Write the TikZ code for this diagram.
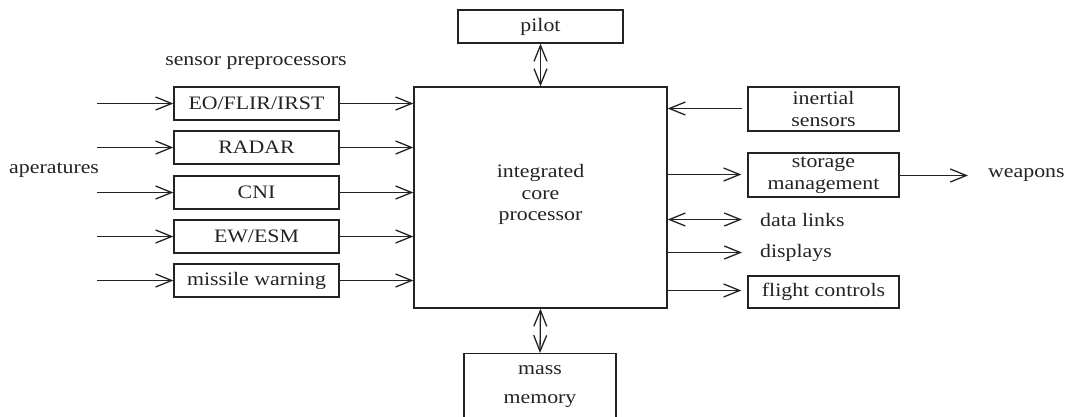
\documentclass[tikz,border=0pt]{standalone}
\usepackage{fontspec}
\setmainfont[FakeStretch=1.15]{Liberation Serif}
\usepackage{xcolor}
\usetikzlibrary{arrows.meta,calc,positioning}
\definecolor{InkCol}{RGB}{35,35,35}
\tikzset{
  avflow/.style={-{Straight Barb[length=16pt,width=13pt]}, line width=1.3pt, draw=InkCol},
  avboth/.style={{Straight Barb[length=16pt,width=13pt]}-{Straight Barb[length=16pt,width=13pt]},
    line width=1.3pt, draw=InkCol},
  avbox/.style={draw=InkCol, line width=1.3pt, minimum width=165pt, minimum height=33pt,
    inner sep=0pt, align=center, text=InkCol, font=\fontsize{19}{22}\selectfont},
  avlab/.style={inner sep=0pt, text=InkCol, font=\fontsize{19}{22}\selectfont}
}

\begin{document}
\begin{tikzpicture}[x=1pt,y=-1pt]
  \useasboundingbox (0,0) rectangle (1068,416);
  % processor with pilot above and memory below
  \node[avbox, minimum width=253pt, minimum height=221pt, text depth=10pt,
    font=\fontsize{19}{21.5}\selectfont] (core) at (540.5,197.5) {integrated\\core\\processor};
  \node[avbox] (pilot) at (540.5,26.5) {pilot};
  \node[avbox, minimum width=152pt, minimum height=76pt, anchor=north,
    text depth=15pt] (mass) at (540,353) {mass\\[7pt]memory};
  \draw[avboth] (pilot.south) -- (core.north);
  \draw[avboth] (core.south) -- (mass.north);
  % sensor preprocessors
  \node[avlab] (pre) at (256,63) {sensor preprocessors};
  \node[avlab, anchor=west] (aper) at (9,170) {aperatures};
  \node[avbox] (eo) at (256.5,103.5) {EO/FLIR/IRST};
  \node[avbox] (radar) at (256.5,147.5) {RADAR};
  \node[avbox] (cni) at (256.5,192.5) {CNI};
  \node[avbox] (ew) at (256.5,236.5) {EW/ESM};
  \node[avbox] (mw) at (256.5,280.5) {missile warning};
  \foreach \s in {eo,radar,cni,ew,mw}{
    \coordinate (\s-in) at ($(\s.west)+(-76,0)$);
    \draw[avflow] (\s-in) -- (\s.west);
    \draw[avflow] (\s.east) -- (core.west |- \s.east);
  }
  % outputs on the right
  \node[avbox, minimum width=151pt, minimum height=44pt] (inrt) at (823.5,109) {inertial\\sensors};
  \node[avbox, minimum width=151pt, minimum height=44pt] (stor) at (823.5,175) {storage\\management};
  \node[avbox, minimum width=151pt, minimum height=32pt] (flt) at (823.5,292) {flight controls};
  \node[avlab, anchor=west] (weap) at (988,175.5) {weapons};
  \node[avlab, anchor=west] (links) at (760,219.5) {data links};
  \node[avlab, anchor=west] (disp) at (760,252.5) {displays};
  \coordinate (inrt-out) at ($(inrt.west)+(-5,-0.5)$);
  \coordinate (stor-in) at ($(stor.west)+(-6,-0.5)$);
  \coordinate (flt-in) at ($(flt.west)+(-6,-1.5)$);
  \coordinate (links-in) at ($(links.west)+(-18,0)$);
  \coordinate (disp-in) at ($(disp.west)+(-18,0)$);
  \coordinate (weap-in) at ($(weap.west)+(-20,0)$);
  \draw[avflow] (inrt-out) -- (core.east |- inrt-out);
  \draw[avflow] (core.east |- stor-in) -- (stor-in);
  \draw[avflow] (stor.east |- weap-in) -- (weap-in);
  \draw[avboth] (core.east |- links-in) -- (links-in);
  \draw[avflow] (core.east |- disp-in) -- (disp-in);
  \draw[avflow] (core.east |- flt-in) -- (flt-in);
\end{tikzpicture}
\end{document}
